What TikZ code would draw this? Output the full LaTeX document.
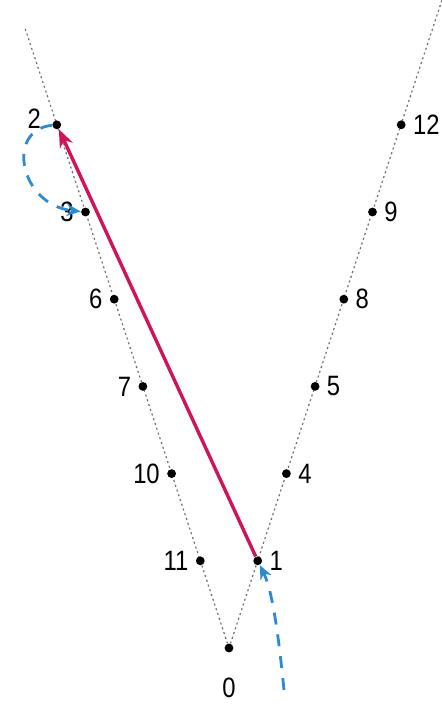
\documentclass[tikz,border=0pt]{standalone}
\usepackage{fontspec}
\setmainfont{Liberation Sans}[FakeStretch=0.85]
\usetikzlibrary{arrows.meta}
\definecolor{jumpred}{HTML}{D0145C}
\definecolor{loopblue}{HTML}{2E8BD0}
\definecolor{armgray}{HTML}{6E6E6E}
\tikzset{
  dot/.style={circle,fill=black,inner sep=0pt,minimum size=4.4pt},
  arm/.style={armgray,line width=0.6pt,dash pattern=on 1pt off 1.5pt},
  hop/.style={loopblue,line width=1.4pt,dash pattern=on 6pt off 5pt,-{Stealth[length=7pt,width=6pt]}},
}
\begin{document}
\begin{tikzpicture}[x=0.5pt,y=-0.5pt,font=\fontsize{14}{16}\selectfont,label distance=0pt]
\useasboundingbox (0,0) rectangle (442,707);
\node[dot,label={[label distance=9pt]below:0}] (p0) at (229,648) {};
\coordinate (lefttop) at (25,28);
\coordinate (righttop) at (442,0);
\draw[arm] (p0) -- (lefttop);
\draw[arm] (p0) -- (righttop);
% left arm
\foreach \n [count=\k] in {11,10,7,6,3}{%
  \node[dot,label=left:\n] (p\n) at ({229-28.7*\k},{648-87.2*\k}) {};
}
\node[dot,label={[xshift=-2pt,yshift=3pt]left:2}] (p2) at ({229-28.7*6},{648-87.2*6}) {};
% right arm
\foreach \n [count=\k] in {1,4,5,8,9,12}{%
  \node[dot,label=right:\n] (p\n) at ({229+28.7*\k},{648-87.2*\k}) {};
}
\draw[jumpred,line width=1.7pt,-{Stealth[length=9pt,width=7pt]}] (p1) -- (p2);
\coordinate (start) at (284,690);
\draw[hop] (start) .. controls (278,630) and (272,590) .. (p1);
\draw[hop] (p2) .. controls (5,130) and (20,205) .. (p3);
\end{tikzpicture}
\end{document}
